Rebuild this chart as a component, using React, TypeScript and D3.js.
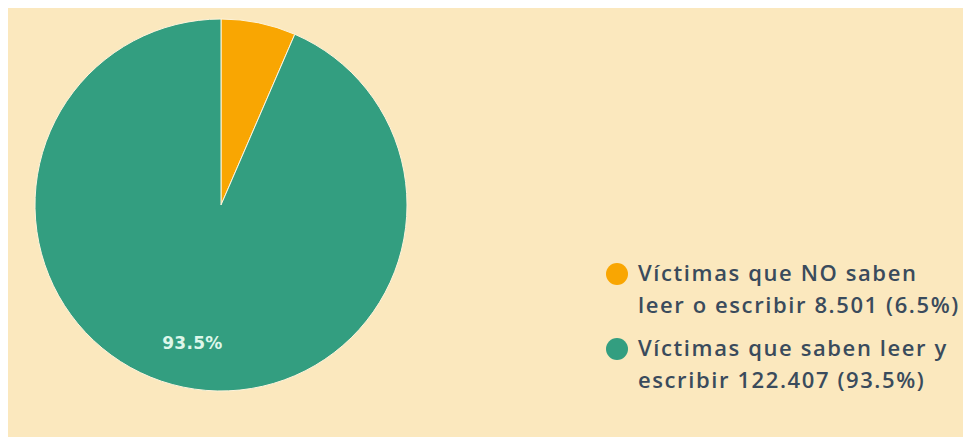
import { useEffect, useRef } from 'react';
import * as d3 from 'd3';

const CATEGORIES = ['Víctimas que NO saben leer o escribir', 'Víctimas que saben leer y escribir'];
const VALUES = [8501, 122407];
const PERCENTS = ['6.5%', '93.5%'];
const COLORS = ['#F9A602', '#339E80'];
const LEGEND_LINES = [
  ['Víctimas que NO saben', 'leer o escribir 8.501 (6.5%)'],
  ['Víctimas que saben leer y', 'escribir 122.407 (93.5%)'],
];

const W = 955;
const H = 429;

export default function App() {
  const svgRef = useRef<SVGSVGElement>(null);

  useEffect(() => {
    document.body.style.overflow = 'hidden';
    const el = svgRef.current;
    if (!el) return;
    const svg = d3.select(el);
    svg.selectAll('*').remove();

    svg.append('rect').attr('width', W).attr('height', H).attr('fill', '#FBE8BE');

    const cx = 213;
    const cy = 197;
    const r = 186;

    const data = VALUES.map((v, i) => ({ v, i }));
    const pie = d3.pie<{ v: number; i: number }>().sort(null).value((d) => d.v);
    const arcs = pie(data);
    const arc = d3.arc<d3.PieArcDatum<{ v: number; i: number }>>().innerRadius(0).outerRadius(r);
    const labelArc = d3.arc<d3.PieArcDatum<{ v: number; i: number }>>().innerRadius(r * 0.76).outerRadius(r * 0.76);

    const g = svg.append('g').attr('transform', `translate(${cx},${cy})`);
    g.selectAll('path')
      .data(arcs)
      .join('path')
      .attr('d', arc)
      .attr('fill', (d) => COLORS[d.data.i])
      .attr('stroke', '#FDF4DC')
      .attr('stroke-width', 1);

    // only the big slice carries a label
    g.selectAll('text.lbl')
      .data(arcs.filter((d) => d.data.i === 1))
      .join('text')
      .attr('class', 'lbl')
      .attr('transform', (d) => `translate(${labelArc.centroid(d)})`)
      .attr('text-anchor', 'middle')
      .attr('dy', '0.35em')
      .attr('font-family', "'DejaVu Sans', sans-serif")
      .attr('font-weight', 700)
      .attr('font-size', '17px')
      .attr('letter-spacing', '0.3px')
      .attr('fill', '#DDF7EA')
      .text((d) => PERCENTS[d.data.i]);

    // legend
    const legend = svg.append('g').attr('transform', 'translate(609,266)');
    LEGEND_LINES.forEach((lines, i) => {
      const item = legend.append('g').attr('transform', `translate(0,${i * 75})`);
      item.append('circle').attr('r', 11).attr('fill', COLORS[i]);
      lines.forEach((t, j) => {
        item.append('text')
          .attr('x', 21)
          .attr('y', 7 + j * 32)
          .attr('font-family', "'Open Sans', sans-serif")
          .attr('font-weight', 600)
          .attr('font-size', '22px')
          .attr('letter-spacing', '1.6px')
          .attr('fill', '#3A4B5C')
          .text(t);
      });
    });
    void CATEGORIES;
  }, []);

  return (
    <svg
      ref={svgRef}
      width={W}
      height={H}
      style={{ position: 'absolute', left: 8, top: 8, display: 'block' }}
    />
  );
}
